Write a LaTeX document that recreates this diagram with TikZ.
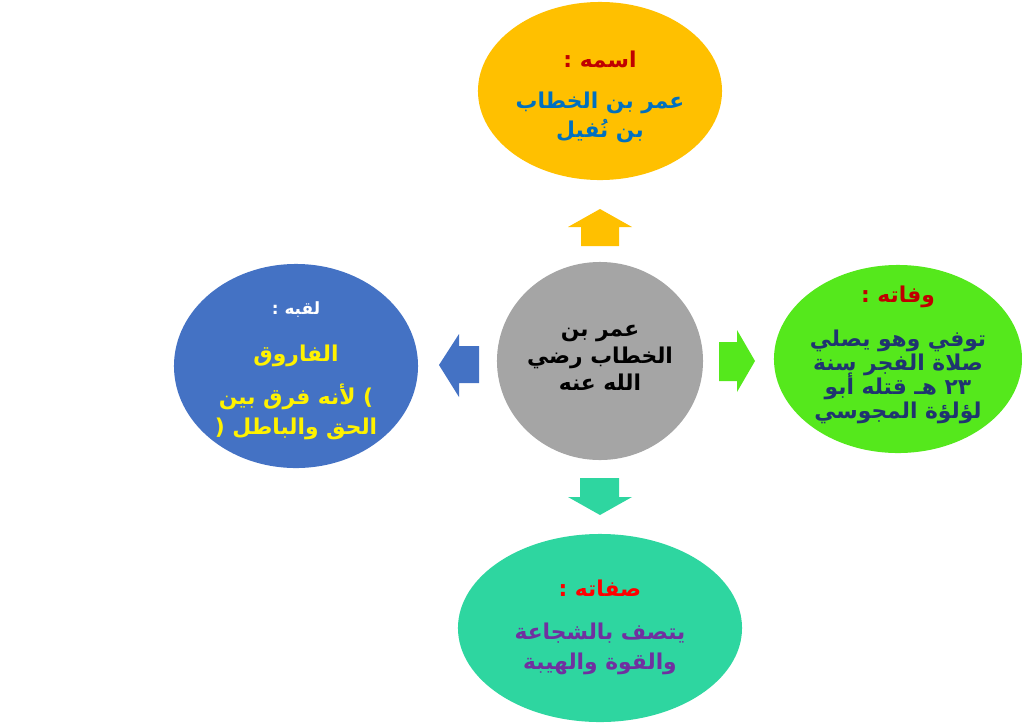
\documentclass[tikz,border=0pt]{standalone}
\usepackage{fontspec}
\newfontfamily\arabicfont[Script=Arabic]{DejaVu Sans}
\TeXXeTstate=1
\usepackage{tikz}
\usetikzlibrary{shapes.geometric}

\definecolor{nameFill}{HTML}{FFC000}
\definecolor{deathFill}{HTML}{55E81C}
\definecolor{titleFill}{HTML}{4472C4}
\definecolor{traitFill}{HTML}{2ED6A0}
\definecolor{coreFill}{HTML}{A5A5A5}
\definecolor{headRed}{HTML}{C00000}
\definecolor{nameBlue}{HTML}{0070C0}
\definecolor{deathNavy}{HTML}{1F3470}
\definecolor{traitPurple}{HTML}{7030A0}

\newcommand{\rl}[1]{\beginR #1\endR}

\begin{document}
\begin{tikzpicture}[
    x=0.025cm, y=-0.025cm,
    bubble/.style={ellipse, inner sep=0pt},
    bubbletext/.style={align=center, inner sep=0pt, font=\arabicfont\bfseries\fontsize{15.5}{21}\selectfont}
]
\useasboundingbox (0,0) rectangle (1022,725);

% the five bubbles
\node[bubble, fill=coreFill, minimum width=5.15cm, minimum height=4.95cm] (core) at (600,361) {};
\node[bubble, fill=nameFill, minimum width=6.1cm, minimum height=4.45cm] (name) at (600,91) {};
\node[bubble, fill=deathFill, minimum width=6.2cm, minimum height=4.7cm] (death) at (898,359) {};
\node[bubble, fill=titleFill, minimum width=6.1cm, minimum height=5.1cm] (title) at (296,366) {};
\node[bubble, fill=traitFill, minimum width=7.1cm, minimum height=4.7cm] (trait) at (600,628) {};

% their texts
\node[bubbletext, text=black] (coreText) at (600,358)
  {\rl{عمر بن}\\[-2pt] \rl{الخطاب رضي}\\[-2pt] \rl{الله عنه}};
\node[bubbletext, text=nameBlue] (nameText) at (600,97)
  {\textcolor{headRed}{\rl{اسمه :}}\\[8pt] \rl{عمر بن الخطاب}\\ \rl{بن نُفيل}};
\node[bubbletext, text=deathNavy] (deathText) at (898,355)
  {\textcolor{headRed}{\rl{وفاته :}}\\[10pt] \rl{توفي وهو يصلي}\\[-4pt] \rl{صلاة الفجر سنة}\\[-4pt] \rl{٢٣ هـ قتله أبو}\\[-4pt] \rl{لؤلؤة المجوسي}};
\node[bubbletext, text=yellow] (titleText) at (296,371)
  {\textcolor{white}{\fontsize{12}{14}\selectfont\rl{لقبه :}}\\[12pt] \rl{الفاروق}\\[10pt] \rl{) لأنه فرق بين}\\ \rl{الحق والباطل (}};
\node[bubbletext, text=traitPurple] (traitText) at (600,627)
  {\textcolor{red}{\rl{صفاته :}}\\[10pt] \rl{يتصف بالشجاعة}\\ \rl{والقوة والهيبة}};

% block arrows from the centre
\fill[nameFill] (581,246) -- (581,227) -- (568,227) -- (600,209) -- (632,227) -- (619,227) -- (619,246) -- cycle;
\fill[deathFill] (719,342) -- (737,342) -- (737,330) -- (755,361) -- (737,392) -- (737,381) -- (719,381) -- cycle;
\fill[titleFill] (479,346) -- (459,346) -- (459,334) -- (439,365) -- (459,397) -- (459,383) -- (479,383) -- cycle;
\fill[traitFill] (580,478) -- (619,478) -- (619,497) -- (632,497) -- (600,515) -- (568,497) -- (580,497) -- cycle;
\end{tikzpicture}
\end{document}
